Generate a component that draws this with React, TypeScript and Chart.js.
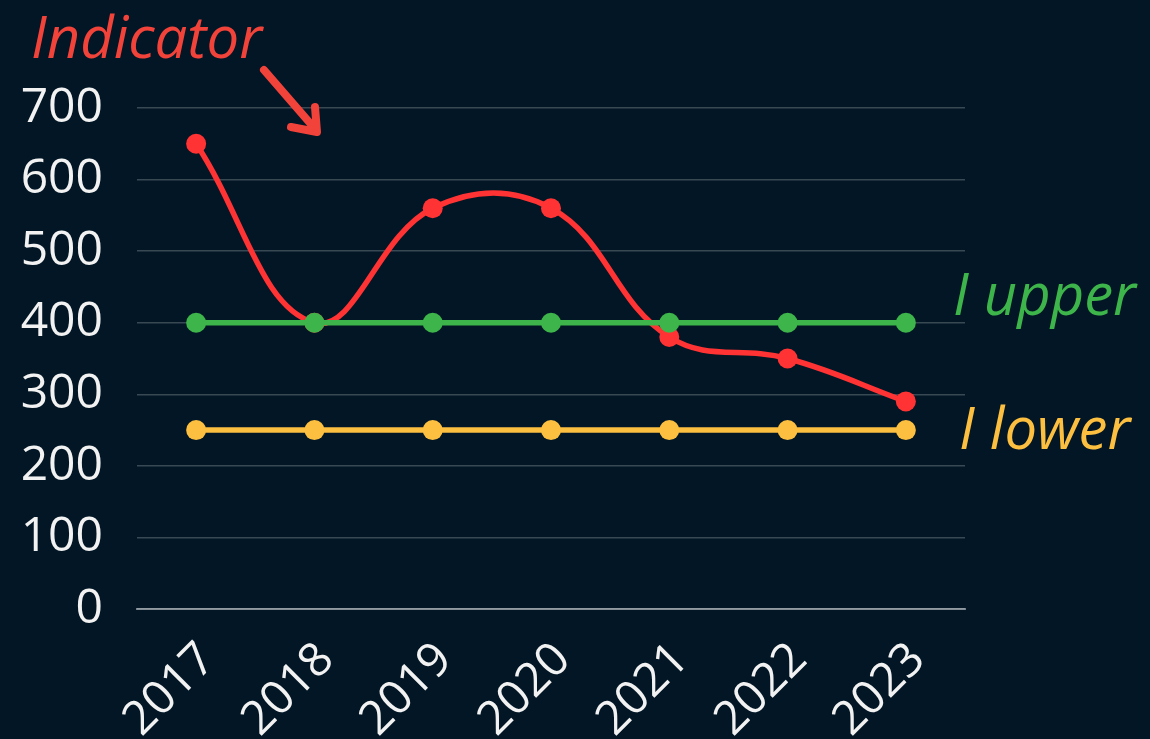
import React, { useEffect, useRef } from "react";
import { Chart, registerables } from "chart.js";

Chart.register(...registerables);

const years = ["2017", "2018", "2019", "2020", "2021", "2022", "2023"];
const indicator = [650, 400, 560, 560, 380, 350, 290];
const upper = [400, 400, 400, 400, 400, 400, 400];
const lower = [250, 250, 250, 250, 250, 250, 250];
const yTicks = [0, 100, 200, 300, 400, 500, 600, 700];

const BG = "#021625";
const RED = "#ff3333";
const RED_TEXT = "#f2433a";
const GREEN = "#3db54a";
const YELLOW = "#fcbf40";
const FONT = "'Open Sans', 'Noto Sans', sans-serif";

const annotationPlugin = {
  id: "annot",
  afterDraw(chart: any) {
    const ctx = chart.ctx;
    const y = chart.scales.y;
    ctx.save();
    ctx.font = `italic 58px ${FONT}`;
    ctx.textBaseline = "alphabetic";
    ctx.textAlign = "left";
    ctx.fillStyle = RED_TEXT;
    ctx.fillText("Indicator", 31, 58);
    ctx.fillStyle = GREEN;
    ctx.fillText("I upper", 953, y.getPixelForValue(upper[0]) - 8);
    ctx.fillStyle = YELLOW;
    ctx.fillText("I lower", 959, y.getPixelForValue(lower[0]) + 19);
    // arrow
    ctx.strokeStyle = RED_TEXT;
    ctx.lineWidth = 8;
    ctx.lineCap = "round";
    ctx.lineJoin = "round";
    ctx.beginPath();
    ctx.moveTo(264, 70);
    ctx.lineTo(316, 130);
    ctx.moveTo(291, 127);
    ctx.lineTo(317, 132);
    ctx.lineTo(315, 107);
    ctx.stroke();
    ctx.restore();
  },
};

const bgPlugin = {
  id: "bg",
  beforeDraw(chart: any) {
    const ctx = chart.ctx;
    ctx.save();
    ctx.fillStyle = BG;
    ctx.fillRect(0, 0, chart.width, chart.height);
    ctx.restore();
  },
};

export default function App() {
  const ref = useRef<HTMLCanvasElement>(null);
  useEffect(() => {
    if (!ref.current) return;
    const chart = new Chart(ref.current, {
      type: "line",
      data: {
        labels: years,
        datasets: [
          {
            label: "I upper",
            data: upper,
            borderColor: GREEN,
            backgroundColor: GREEN,
            borderWidth: 5.5,
            pointRadius: 10,
            pointBorderWidth: 0,
            tension: 0,
          },
          {
            label: "Indicator",
            data: indicator,
            borderColor: RED,
            backgroundColor: RED,
            borderWidth: 5.5,
            pointRadius: 10,
            pointBorderWidth: 0,
            tension: 0.4,
          },
          {
            label: "I lower",
            data: lower,
            borderColor: YELLOW,
            backgroundColor: YELLOW,
            borderWidth: 5.5,
            pointRadius: 10,
            pointBorderWidth: 0,
            tension: 0,
          },
        ],
      },
      options: {
        animation: false,
        responsive: false,
        maintainAspectRatio: false,
        layout: { padding: { top: 108, right: 185, left: 0, bottom: 0 } },
        plugins: { legend: { display: false }, tooltip: { enabled: false } },
        scales: {
          x: {
            offset: true,
            grid: { display: false, drawTicks: false },
            border: { display: true, color: "rgba(255,255,255,0.45)", width: 2, z: 1 },
            ticks: {
              color: "#f2f2f2",
              font: { family: FONT, size: 47 },
              minRotation: 45,
              maxRotation: 45,
              padding: 23,
              labelOffset: 12,
            },
            afterFit(scale: any) {
              scale.height = 130;
            },
          },
          y: {
            min: 0,
            max: 700,
            z: 1,
            afterBuildTicks(scale: any) {
              scale.ticks = yTicks.map((v) => ({ value: v }));
            },
            grid: { color: "rgba(255,255,255,0.22)", lineWidth: 1.5, drawTicks: false },
            border: { display: false },
            ticks: {
              color: "#f2f2f2",
              font: { family: FONT, size: 48 },
              padding: 34,
            },
            afterFit(scale: any) {
              scale.width = 137;
            },
          },
        },
      },
      plugins: [bgPlugin, annotationPlugin],
    });
    return () => chart.destroy();
  }, []);
  return (
    <div style={{ position: "fixed", left: 0, top: 0, width: 1150, height: 739, background: BG }}>
      <canvas ref={ref} width={1150} height={739} style={{ display: "block" }} />
    </div>
  );
}
